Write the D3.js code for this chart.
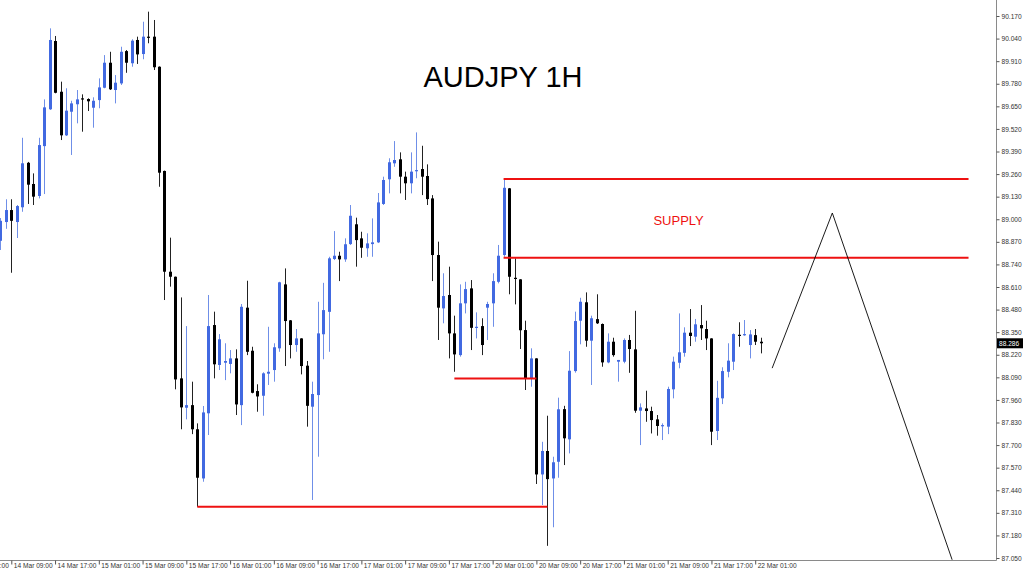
<!DOCTYPE html>
<html><head><meta charset="utf-8">
<script src="https://cdn.jsdelivr.net/npm/d3@7"></script>
<style>html,body{margin:0;padding:0;background:#fff;overflow:hidden}</style>
</head><body><svg id="c" width="1024" height="574"></svg>
<script>
const firstIndex = -2;
const opens = [88.876,88.984,89.053,88.984,89.069,89.325,89.203,89.134,89.421,89.633,90.026,89.734,89.483,89.619,89.662,89.696,89.692,89.642,89.686,89.757,89.901,89.744,89.782,89.968,89.898,90.032,89.951,90.051,90.051,89.878,89.278,88.698,88.669,88.084,87.915,87.930,87.791,87.508,87.883,88.391,88.161,88.174,88.167,88.199,87.930,88.491,88.243,88.011,87.984,88.111,88.132,88.257,88.625,88.418,88.276,88.314,88.157,87.921,87.988,88.338,88.467,88.771,88.790,88.769,88.857,88.971,88.890,88.833,88.857,88.867,89.088,89.230,89.322,89.345,89.245,89.207,89.278,89.289,89.249,89.120,88.794,88.487,88.564,88.343,88.218,88.516,88.602,88.375,88.385,88.491,88.516,88.640,88.794,89.178,88.663,88.654,88.362,88.084,88.199,87.531,87.666,87.508,87.604,87.907,87.733,88.126,88.416,88.522,88.301,88.425,88.397,88.176,88.295,88.180,88.180,88.305,88.251,87.898,87.911,87.896,87.848,87.810,87.806,88.021,88.174,88.231,88.347,88.324,88.391,88.368,88.314,87.781,87.969,88.122,88.180,88.335,88.332,88.276,88.333,88.295];
const highs = [89.007,89.115,89.115,89.082,89.469,89.330,89.264,89.469,89.690,90.099,90.055,89.792,89.754,89.682,89.744,89.719,89.696,89.702,89.811,89.945,89.964,89.830,89.993,89.974,90.036,90.051,90.137,90.195,90.147,89.880,89.280,88.894,88.670,88.550,88.385,88.065,87.825,87.925,88.564,88.468,88.339,88.286,88.247,88.251,88.512,88.646,88.266,88.050,88.119,88.381,88.286,88.640,88.717,88.420,88.368,88.315,88.184,88.065,88.525,88.634,88.784,88.932,88.813,88.890,89.082,89.009,88.928,88.919,89.005,89.151,89.245,89.351,89.450,89.385,89.274,89.385,89.500,89.423,89.316,89.139,88.871,88.689,88.727,88.445,88.625,88.640,88.650,88.464,88.430,88.525,88.689,88.852,89.226,89.180,88.775,88.655,88.416,88.257,88.200,87.719,87.869,87.633,87.973,87.926,88.241,88.468,88.548,88.579,88.445,88.568,88.400,88.343,88.318,88.190,88.314,88.334,88.473,87.940,88.013,87.921,87.873,87.825,88.036,88.209,88.458,88.378,88.483,88.426,88.506,88.416,88.315,88.070,88.148,88.286,88.343,88.407,88.420,88.362,88.368,88.318];
const lows = [88.823,88.945,88.692,88.892,89.043,89.088,89.082,89.120,89.145,89.629,89.725,89.456,89.479,89.370,89.552,89.504,89.623,89.527,89.639,89.754,89.744,89.667,89.773,89.843,89.878,89.894,89.921,90.013,89.859,89.187,88.535,88.612,88.021,87.791,87.848,87.763,87.345,87.489,87.758,88.084,88.132,88.074,88.113,87.873,87.815,88.218,87.998,87.892,87.869,88.046,88.065,88.237,88.155,88.199,88.237,88.107,87.806,87.384,87.633,88.194,88.237,88.765,88.644,88.755,88.852,88.727,88.778,88.784,88.784,88.863,89.082,89.149,89.302,89.149,89.111,89.149,89.236,89.139,89.082,88.644,88.305,88.401,88.199,88.122,88.209,88.458,88.247,88.314,88.218,88.305,88.381,88.631,88.784,88.568,88.510,88.253,88.017,88.036,87.476,87.355,87.120,87.227,87.512,87.585,87.652,88.117,88.280,88.266,88.046,88.397,88.151,88.171,88.209,88.065,88.171,88.116,87.886,87.700,87.834,87.767,87.754,87.729,87.763,87.969,88.142,88.209,88.270,88.295,88.305,88.247,87.700,87.729,87.936,88.090,88.132,88.266,88.329,88.199,88.276,88.228];
const closes = [88.991,89.053,88.991,89.076,89.322,89.199,89.130,89.427,89.644,90.032,89.728,89.483,89.625,89.667,89.690,89.690,89.679,89.682,89.759,89.901,89.748,89.786,89.964,89.901,90.028,89.949,90.051,90.049,89.875,89.268,88.698,88.669,88.078,87.917,87.930,87.791,87.512,87.888,88.385,88.165,88.309,88.184,88.199,87.934,88.496,88.237,88.001,87.980,88.113,88.122,88.263,88.637,88.414,88.276,88.314,88.155,87.926,87.994,88.343,88.477,88.775,88.790,88.769,88.856,89.020,88.880,88.836,88.861,88.867,89.097,89.226,89.328,89.341,89.245,89.207,89.274,89.283,89.245,89.116,88.794,88.491,88.558,88.343,88.222,88.516,88.598,88.375,88.381,88.276,88.512,88.644,88.790,89.181,88.669,88.656,88.361,88.084,88.199,87.531,87.666,87.504,87.601,87.906,87.739,88.128,88.414,88.525,88.301,88.430,88.401,88.176,88.295,88.218,88.190,88.305,88.253,87.898,87.917,87.896,87.844,87.810,87.815,88.023,88.180,88.234,88.347,88.328,88.395,88.372,88.314,87.777,87.972,88.126,88.186,88.339,88.332,88.339,88.337,88.295,88.286];

const priceTicks = [90.170,90.040,89.910,89.780,89.650,89.520,89.390,89.260,89.130,89.000,88.870,88.740,88.610,88.480,88.350,88.220,88.090,87.960,87.830,87.700,87.570,87.440,87.310,87.180,87.050];
const timeTickIndex = [-8,0,8,16,24,32,40,48,56,64,72,80,88,96,104,112,120,128,136];
const timeTickLabels = ["14 Mar 01:00","14 Mar 09:00","14 Mar 17:00","15 Mar 01:00","15 Mar 09:00","15 Mar 17:00","16 Mar 01:00","16 Mar 09:00","16 Mar 17:00","17 Mar 01:00","17 Mar 09:00","17 Mar 17:00","20 Mar 01:00","20 Mar 09:00","20 Mar 17:00","21 Mar 01:00","21 Mar 09:00","21 Mar 17:00","22 Mar 01:00"];
const lastPrice = 88.286;
// annotations: [startIndex, endIndex, price]
const redLevels = [[34,98,87.345],[81,96,88.084],[90,175,89.232],[90,175,88.778]];
const zigzagIdx = [139.1,150.1,172.0];
const zigzagPrice = [88.143,89.036,87.040];
const title = "AUDJPY 1H";
const supplyLabel = "SUPPLY";
const supplyAt = [122, 89.0];

const svg = d3.select("#c");
const W = 996, H = 560;
const x = d3.scaleLinear().domain([0,136]).range([11.3, 755.2]);
const y = d3.scaleLinear().domain([87.05, 90.17]).range([558, 16]);

svg.append("rect").attr("width",1024).attr("height",574).attr("fill","#fff");
svg.append("defs").append("clipPath").attr("id","plot").append("rect").attr("x",0).attr("y",0).attr("width",W).attr("height",H);
const g = svg.append("g").attr("clip-path","url(#plot)");

const bars = opens.map((o,k)=>({i:k+firstIndex,o,h:highs[k],l:lows[k],c:closes[k]}));
const blue = "#4169e1";
const col = d => d.c >= d.o ? blue : "#000";

g.selectAll("line.wick").data(bars).join("line")
  .attr("x1",d=>Math.round(x(d.i))+0.5).attr("x2",d=>Math.round(x(d.i))+0.5)
  .attr("y1",d=>y(d.h)).attr("y2",d=>y(d.l))
  .attr("stroke",d=>d.c>=d.o? "#6f8fe8":"#222").attr("stroke-width",1);
g.selectAll("rect.body").data(bars).join("rect")
  .attr("x",d=>Math.round(x(d.i))-1)
  .attr("width",3)
  .attr("y",d=>Math.min(y(d.o),y(d.c)))
  .attr("height",d=>Math.max(1.2,Math.abs(y(d.o)-y(d.c))))
  .attr("fill",col);

// red levels
g.selectAll("line.lvl").data(redLevels).join("line")
  .attr("x1",d=>x(d[0])).attr("x2",d=>x(d[1]))
  .attr("y1",d=>y(d[2])).attr("y2",d=>y(d[2]))
  .attr("stroke","#ee1111").attr("stroke-width",2);

// zigzag
const zz = zigzagIdx.map((v,k)=>[x(v),y(zigzagPrice[k])]);
g.append("path").attr("d",d3.line()(zz)).attr("fill","none").attr("stroke","#000").attr("stroke-width",0.9);

// texts
svg.append("text").attr("x",503).attr("y",87).attr("text-anchor","middle")
  .attr("font-family","Liberation Sans, Arial, sans-serif").attr("font-size",29).attr("fill","#000").text(title);
svg.append("text").attr("x",x(supplyAt[0])).attr("y",y(supplyAt[1])+6).attr("text-anchor","middle")
  .attr("font-family","Liberation Sans, Arial, sans-serif").attr("font-size",13).attr("fill","#ee1111").text(supplyLabel);

// axes
const axCol = "#8a8a8a";
svg.append("line").attr("x1",W+0.5).attr("x2",W+0.5).attr("y1",0).attr("y2",H+0.5).attr("stroke",axCol);
svg.append("line").attr("x1",0).attr("x2",W+0.5).attr("y1",H+0.5).attr("y2",H+0.5).attr("stroke",axCol);

const yAxis = d3.axisRight(y).tickValues(priceTicks).tickFormat(d3.format(".3f")).tickSize(3).tickPadding(2);
const ya = svg.append("g").attr("transform",`translate(${W+0.5},0)`).call(yAxis);
ya.select(".domain").remove();
ya.selectAll("line").attr("stroke","#555");
ya.selectAll("text").attr("font-family","Liberation Sans, Arial, sans-serif").attr("font-size",6.6).attr("fill","#333");

const xAxis = d3.axisBottom(x).tickValues(timeTickIndex).tickFormat((d,k)=>timeTickLabels[k]).tickSize(4);
const xa = svg.append("g").attr("transform",`translate(0,${H+0.5})`).call(xAxis);
xa.select(".domain").remove();
xa.selectAll("line").attr("stroke","#555");
xa.selectAll("text").attr("text-anchor","start").attr("dx",2).attr("y",2.5).attr("dy","0.71em")
  .attr("font-family","Liberation Sans, Arial, sans-serif").attr("font-size",6.6).attr("fill","#333");

// current price box
const py = y(lastPrice);
svg.append("rect").attr("x",W+1).attr("y",py-5).attr("width",26).attr("height",10).attr("fill","#000");
svg.append("text").attr("x",W+3).attr("y",py).attr("dy","0.35em").attr("font-family","Liberation Sans, Arial, sans-serif")
  .attr("font-size",6.6).attr("fill","#fff").text(d3.format(".3f")(lastPrice));
</script></body></html>
